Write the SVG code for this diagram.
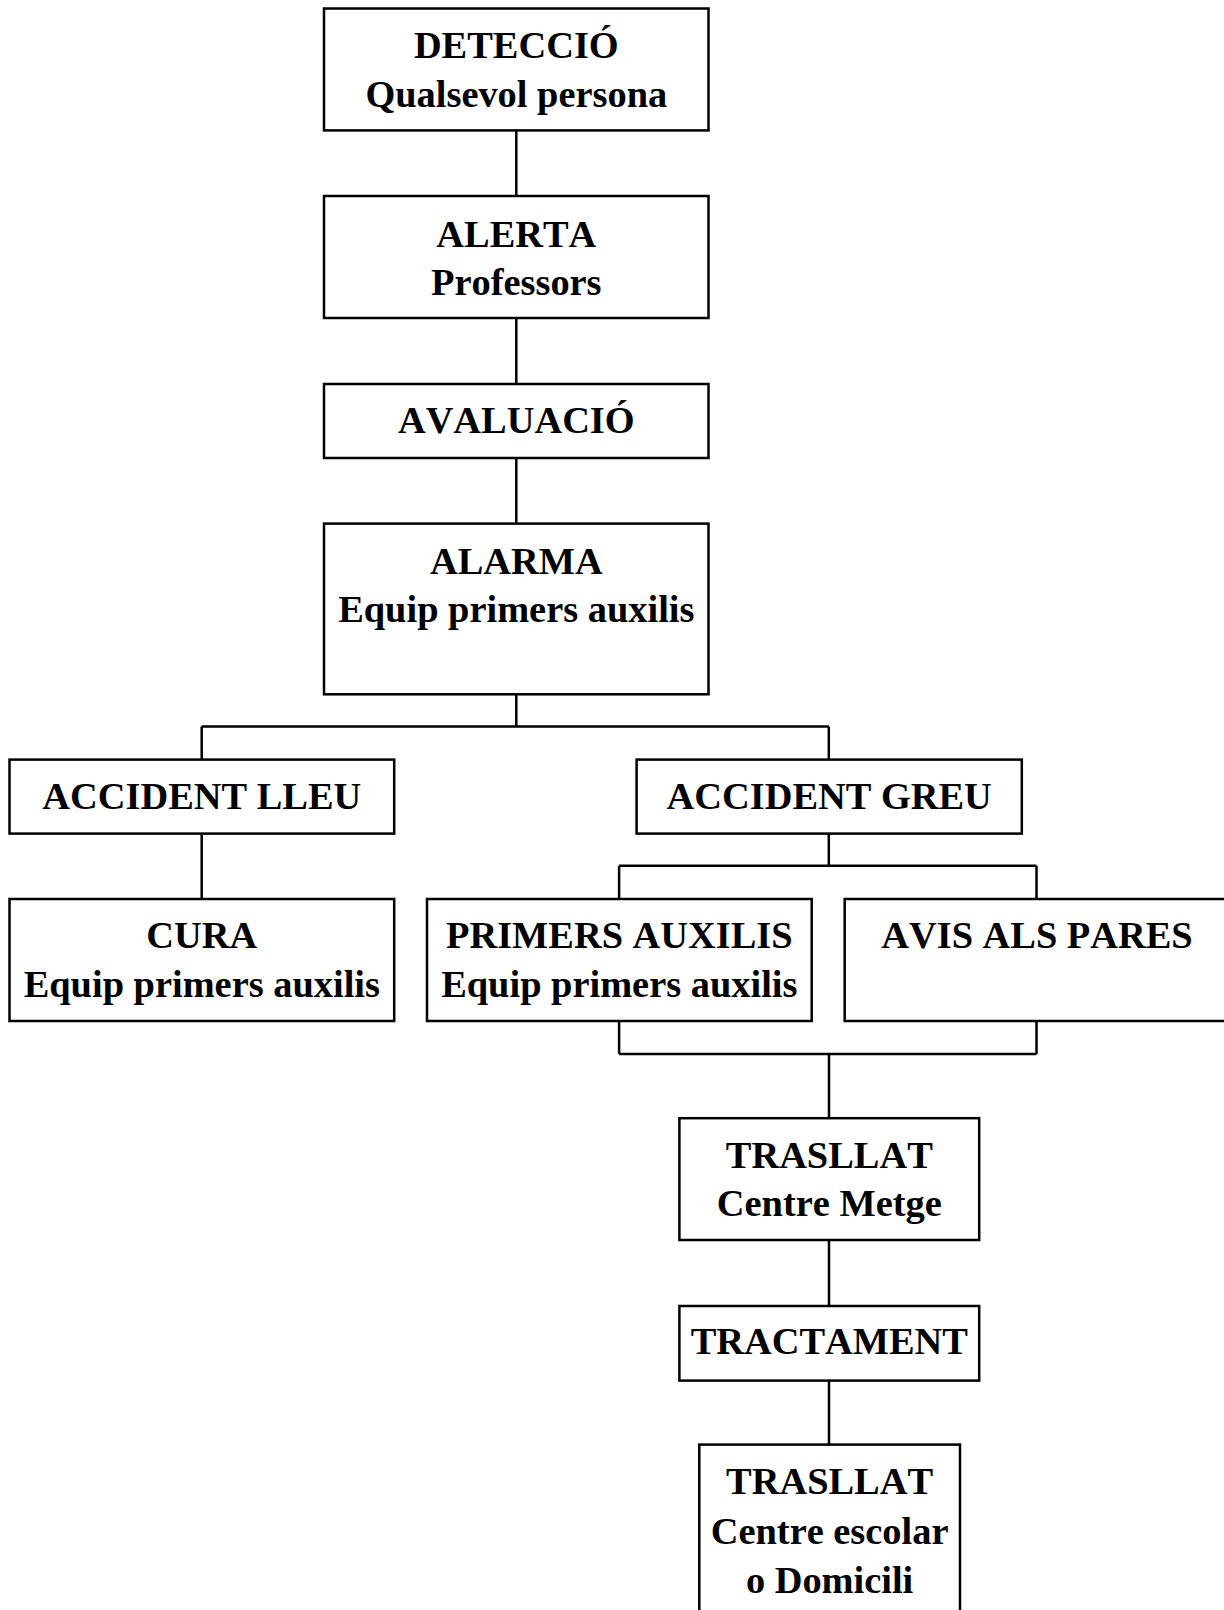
<svg xmlns="http://www.w3.org/2000/svg" width="1224" height="1610" viewBox="0 0 1224 1610">
<style>
.box{fill:#fff;stroke:#000;stroke-width:2.5}
.ln{fill:none;stroke:#000;stroke-width:2.5}
text{font-family:"Liberation Serif","Times New Roman",serif;font-weight:bold;font-size:38.4px;text-anchor:middle;fill:#000;font-kerning:none}
</style>
<rect width="1224" height="1610" fill="#fff"/>
<g id="connectors">
<path class="ln" d="M516.3 130.4V196M516.3 318V384M516.3 458V523.6M516.3 694.3V726.4M201.7 726.4H828.8M201.7 726.4V759.6M828.8 726.4V759.6M201.7 833.6V899M828.8 833.6V865.7M619.1 865.7H1036.5M619.1 865.7V899M1036.5 865.7V899M619.1 1021V1054M1036.5 1021V1054M619.1 1054H1036.5M829 1054V1118.2M829 1240V1306M829 1380.6V1444.6"/>
</g>
<g id="deteccio"><rect class="box" x="324" y="8.5" width="384.5" height="121.9"/><text x="516.3" y="58.3">DETECCIÓ</text><text x="516.3" y="106.7">Qualsevol persona</text></g>
<g id="alerta"><rect class="box" x="324" y="196" width="384.5" height="122"/><text x="516.3" y="246.7">ALERTA</text><text x="516.3" y="295">Professors</text></g>
<g id="avaluacio"><rect class="box" x="324" y="384" width="384.5" height="74"/><text x="516.3" y="433.3">AVALUACIÓ</text></g>
<g id="alarma"><rect class="box" x="324" y="523.6" width="384.5" height="170.7"/><text x="516.3" y="573.6">ALARMA</text><text x="516.3" y="622">Equip primers auxilis</text></g>
<g id="accident-lleu"><rect class="box" x="9.5" y="759.6" width="384.7" height="74"/><text x="201.8" y="809">ACCIDENT LLEU</text></g>
<g id="accident-greu"><rect class="box" x="636.6" y="759.6" width="385.2" height="74"/><text x="829.2" y="809">ACCIDENT GREU</text></g>
<g id="cura"><rect class="box" x="9.5" y="899" width="384.7" height="122"/><text x="201.8" y="948">CURA</text><text x="201.8" y="997">Equip primers auxilis</text></g>
<g id="primers-auxilis"><rect class="box" x="427" y="899" width="384.7" height="122"/><text x="619.3" y="948">PRIMERS AUXILIS</text><text x="619.3" y="997">Equip primers auxilis</text></g>
<g id="avis-pares"><rect class="box" x="844.7" y="899" width="384.7" height="122"/><text x="1037" y="948">AVIS ALS PARES</text></g>
<g id="trasllat-metge"><rect class="box" x="679.4" y="1118.2" width="299.8" height="121.8"/><text x="829.3" y="1168">TRASLLAT</text><text x="829.3" y="1216">Centre Metge</text></g>
<g id="tractament"><rect class="box" x="679.4" y="1306" width="299.8" height="74.6"/><text x="829.3" y="1354.4">TRACTAMENT</text></g>
<g id="trasllat-escolar"><rect class="box" x="699.3" y="1444.6" width="260.7" height="190"/><text x="829.6" y="1494.4">TRASLLAT</text><text x="829.6" y="1543.5">Centre escolar</text><text x="829.6" y="1592.5">o Domicili</text></g>
</svg>
